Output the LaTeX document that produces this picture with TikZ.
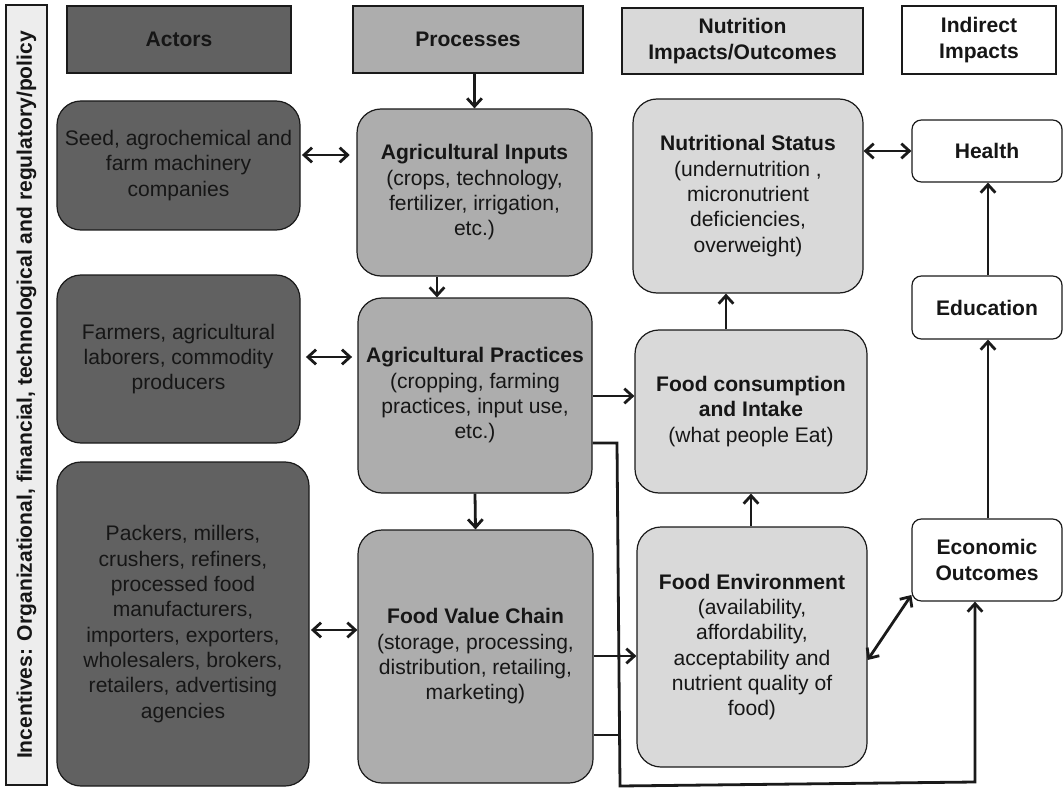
\documentclass[tikz,border=0pt]{standalone}
\usepackage{fontspec}
\setmainfont{Liberation Sans}
\usetikzlibrary{arrows.meta}
\definecolor{actc}{HTML}{616161}
\definecolor{procc}{HTML}{ADADAD}
\definecolor{nutc}{HTML}{D9D9D9}
\definecolor{barc}{HTML}{EDEDED}
\definecolor{txt}{HTML}{161616}
\definecolor{edge}{HTML}{1A1A1A}
\newcommand\bx[7]{\node[#6,minimum width={(#4-#2)*0.75pt},minimum height={(#5-#3)*0.75pt}] (#1) at ({(#2+#4)/2},{(#3+#5)/2}) {#7};}
\tikzset{
  base/.style={draw=edge, line width=0.9pt, inner sep=0pt, align=center, text=txt, font=\fontsize{15.8}{19}\selectfont},
  hdr/.style={base, font=\fontsize{15.8}{19}\selectfont\bfseries},
  rbox/.style={base, rounded corners=18pt},
  sbox/.style={base, rounded corners=7pt, font=\fontsize{15.8}{19}\selectfont\bfseries},
  tip/.tip={Straight Barb[length=6pt,width=11pt]},
  arr/.style={draw=edge, line width=2.1pt, -tip},
  dbl/.style={draw=edge, line width=2.1pt, tip-tip},
  pl/.style={draw=edge, line width=2.1pt},
}
\begin{document}
\begin{tikzpicture}[x=0.75pt,y=-0.75pt]
\useasboundingbox (0,0) rectangle (1064,788);
% left bar
\bx{bar}{6}{5}{47}{785}{base,fill=barc}{}
\node[rotate=90, text=txt, font=\fontsize{15.8}{19}\selectfont\bfseries] (bartxt) at (bar.center) {Incentives: Organizational, financial, technological and regulatory/policy};
% headers
\bx{hact}{67}{6}{291}{73}{hdr,fill=actc}{Actors}
\bx{hproc}{353}{6}{583}{73}{hdr,fill=procc}{Processes}
\bx{hnut}{622}{8}{863}{74}{hdr,fill=nutc}{Nutrition\\Impacts/Outcomes}
\bx{hind}{902}{6}{1056}{74}{hdr,fill=white}{Indirect\\Impacts}
% actors
\bx{act1}{57}{101}{300}{230}{rbox,fill=actc}{Seed, agrochemical and\\farm machinery\\companies}
\bx{act2}{57}{275}{300}{443}{rbox,fill=actc}{Farmers, agricultural\\laborers, commodity\\producers}
\bx{act3}{57}{462}{309}{786}{rbox,fill=actc}{Packers, millers,\\crushers, refiners,\\processed food\\manufacturers,\\importers, exporters,\\wholesalers, brokers,\\retailers, advertising\\agencies}
% processes
\bx{inp}{357}{109}{592}{276}{rbox,fill=procc}{\textbf{Agricultural Inputs}\\(crops, technology,\\fertilizer, irrigation,\\etc.)}
\bx{prac}{358}{298}{592}{493}{rbox,fill=procc}{\textbf{Agricultural Practices}\\(cropping, farming\\practices, input use,\\etc.)}
\bx{fvc}{358}{530}{593}{783}{rbox,fill=procc}{\textbf{Food Value Chain}\\(storage, processing,\\distribution, retailing,\\marketing)}
% nutrition
\bx{nut}{633}{99}{863}{293}{rbox,fill=nutc}{\textbf{Nutritional Status}\\(undernutrition ,\\micronutrient\\deficiencies,\\overweight)}
\bx{cons}{635}{330}{867}{493}{rbox,fill=nutc}{\textbf{Food consumption}\\\textbf{and Intake}\\(what people Eat)}
\bx{env}{637}{527}{867}{767}{rbox,fill=nutc}{\textbf{Food Environment}\\(availability,\\affordability,\\acceptability and\\nutrient quality of\\food)}
% indirect
\bx{health}{912}{120}{1062}{182}{sbox,fill=white}{Health}
\bx{educ}{912}{276}{1062}{339}{sbox,fill=white}{Education}
\bx{econ}{912}{519}{1062}{601}{sbox,fill=white}{Economic\\Outcomes}
% helper coordinates
\coordinate (x437) at (437,0);
\coordinate (x726) at (726,0);
\coordinate (x751) at (751,0);
\coordinate (x975) at (975,0);
\coordinate (x988) at (988,0);
\coordinate (y155) at (0,155);
\coordinate (y357) at (0,357);
\coordinate (y630) at (0,630);
\coordinate (y396) at (0,396);
\coordinate (y443) at (0,443);
\coordinate (y656) at (0,656);
\coordinate (y735) at (0,735);
\coordinate (y660) at (0,660);
\coordinate (y595) at (0,595);
\coordinate (c1) at (617,443);
\coordinate (c2) at (620,786);
\coordinate (c3) at (975,782);
\coordinate (c4) at (619,735);
% connectors
\draw[arr] (inp.north |- hproc.south) -- (inp.north);
\draw[arr] (inp.south -| x437) -- (prac.north -| x437);
\draw[arr] (prac.south) -- (fvc.north);
\draw[dbl, shorten <=1pt, shorten >=5pt] (act1.east |- y155) -- (inp.west |- y155);
\draw[dbl, shorten <=4pt, shorten >=4pt] (act2.east |- y357) -- (prac.west |- y357);
\draw[dbl, shorten <=1pt] (act3.east |- y630) -- (fvc.west |- y630);
\draw[arr] (prac.east |- y396) -- (cons.west |- y396);
\draw[arr] (prac.east |- y443) -- (c1) -- (c2) -- (c3) -- (econ.south -| x975);
\draw[arr] (fvc.east |- y656) -- (env.west |- y656);
\draw[pl] (fvc.east |- y735) -- (c4);
\draw[arr] (env.north -| x751) -- (cons.south -| x751);
\draw[arr] (cons.north -| x726) -- (nut.south -| x726);
\draw[dbl] (nut.east |- health.west) -- (health.west);
\draw[arr] (educ.north -| x988) -- (health.south -| x988);
\draw[arr] (econ.north -| x988) -- (educ.south -| x988);
\draw[dbl] (env.east |- y660) -- (econ.west |- y595);
\end{tikzpicture}
\end{document}
